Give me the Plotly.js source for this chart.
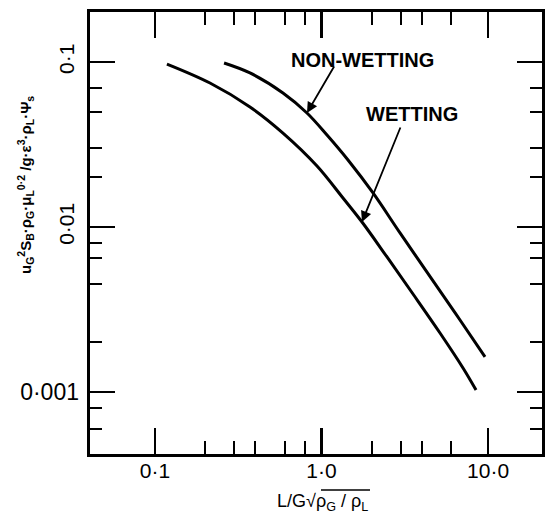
<!DOCTYPE html>
<html>
<head>
<meta charset="utf-8">
<script src="https://cdn.plot.ly/plotly-3.0.1.min.js"></script>
<style>html,body{margin:0;padding:0;background:#fff;}#chart{width:550px;height:522px;}</style>
</head>
<body>
<div id="chart"></div>
<script>
// Non-wetting curve
var nonWetX = [0.260, 0.372, 0.587, 0.818, 1.079, 1.443, 2.039, 2.961, 4.674, 6.787, 9.59];
var nonWetY = [0.0986, 0.0858, 0.0649, 0.0491, 0.0361, 0.02547, 0.01607, 0.0092, 0.00471, 0.00273, 0.00163];
// Wetting curve
var wetX = [0.118, 0.214, 0.372, 0.587, 0.940, 1.346, 1.751, 2.474, 3.544, 5.148, 7.075, 8.47];
var wetY = [0.0972, 0.0746, 0.0534, 0.0371, 0.02343, 0.01499, 0.01072, 0.00658, 0.003925, 0.002278, 0.001398, 0.001028];

var xTickVals = [0.1, 1, 10];
var xTickText = ['0·1', '1·0', '10·0'];
var xMinorVals = [0.2, 0.3, 0.4, 0.6, 0.8, 2, 3, 4, 6];
var yTickValsRot = [0.1, 0.01, 0.001];
var yTickTextRot = ['0·1', '0·01', ''];
var yTickValsFlat = [0.001];
var yTickTextFlat = ['0·001'];
var yMinorVals = [0.07, 0.05, 0.03, 0.02, 0.008, 0.0065, 0.0045, 0.002, 0.0008, 0.0006];

var curveNames = ['NON-WETTING', 'WETTING'];

var xRange = [-1.39, 1.324];
var yRange = [-3.376, -0.697];

var traces = [
  {x: nonWetX, y: nonWetY, mode: 'lines', line: {color: '#000', width: 3, shape: 'spline'}, name: curveNames[0], hoverinfo: 'skip'},
  {x: wetX, y: wetY, mode: 'lines', line: {color: '#000', width: 3, shape: 'spline'}, name: curveNames[1], hoverinfo: 'skip'},
  {x: [null], y: [null], yaxis: 'y2', mode: 'lines', showlegend: false, hoverinfo: 'skip'}
];

var tickFont = {family: 'Liberation Sans, Arial, sans-serif', size: 21, color: '#000'};
function px(xp) { return (xp - 90) / 452; }
function py(yp) { return (454 - yp) / 442; }

var layout = {
  width: 550, height: 522,
  margin: {l: 90, r: 8, t: 12, b: 68},
  paper_bgcolor: '#fff', plot_bgcolor: '#fff',
  showlegend: false,
  xaxis: {
    type: 'log', range: xRange,
    tickmode: 'array', tickvals: xTickVals, ticktext: xTickText,
    ticks: 'inside', ticklen: 26, tickwidth: 2.5, tickcolor: '#000',
    minor: {tickmode: 'array', tickvals: xMinorVals, ticks: 'inside', ticklen: 13, tickwidth: 2, tickcolor: '#000', showgrid: false},
    showline: true, linewidth: 3, linecolor: '#000', mirror: 'ticks',
    showgrid: false, zeroline: false,
    tickfont: tickFont, ticklabelstandoff: -4
  },
  yaxis: {
    type: 'log', range: yRange,
    tickmode: 'array', tickvals: yTickValsRot, ticktext: yTickTextRot, tickangle: -90,
    ticks: 'inside', ticklen: 25, tickwidth: 2.5, tickcolor: '#000',
    minor: {tickmode: 'array', tickvals: yMinorVals, ticks: 'inside', ticklen: 12, tickwidth: 2, tickcolor: '#000', showgrid: false},
    showline: true, linewidth: 3, linecolor: '#000', mirror: 'ticks',
    showgrid: false, zeroline: false,
    tickfont: tickFont, ticklabelstandoff: 5
  },
  yaxis2: {
    type: 'log', range: yRange, overlaying: 'y', side: 'left',
    tickmode: 'array', tickvals: yTickValsFlat, ticktext: yTickTextFlat, tickangle: 0,
    ticks: '', showline: false, showgrid: false, zeroline: false,
    tickfont: {family: 'Liberation Sans, Arial, sans-serif', size: 23, color: '#000'}, ticklabelstandoff: 10
  },
  annotations: [
    {xref: 'paper', yref: 'paper', x: px(362), y: py(60), xanchor: 'center', yanchor: 'middle', text: '<b>' + curveNames[0] + '</b>',
     showarrow: false, font: {family: 'Liberation Sans, Arial, sans-serif', size: 20, color: '#000'}},
    {xref: 'paper', yref: 'paper', x: px(412), y: py(114), xanchor: 'center', yanchor: 'middle', text: '<b>' + curveNames[1] + '</b>',
     showarrow: false, font: {family: 'Liberation Sans, Arial, sans-serif', size: 20, color: '#000'}},
    {x: Math.log10(nonWetX[3]), y: Math.log10(nonWetY[3]), xref: 'x', yref: 'y', text: '', showarrow: true,
     ax: 28, ay: -48, arrowhead: 2, arrowsize: 1.2, arrowwidth: 1.8, arrowcolor: '#000'},
    {x: Math.log10(wetX[6]), y: Math.log10(wetY[6]), xref: 'x', yref: 'y', text: '', showarrow: true,
     ax: 39, ay: -96, arrowhead: 2, arrowsize: 1.2, arrowwidth: 1.8, arrowcolor: '#000'},
    {xref: 'paper', yref: 'paper', x: px(25), y: py(185), xanchor: 'center', yanchor: 'middle', textangle: -90,
     text: '<b>u<sub>G</sub><sup>2</sup>S<sub>B</sub>·ρ<sub>G</sub>·μ<sub>L</sub><sup>0·2</sup> /g·ε<sup>3</sup>·ρ<sub>L</sub>·Ψ<sub>s</sub></b>',
     showarrow: false, font: {family: 'Liberation Sans, Arial, sans-serif', size: 15, color: '#000'}},
    {xref: 'paper', yref: 'paper', x: px(322), y: py(502), xanchor: 'center', yanchor: 'middle',
     text: 'L/G√ρ<sub>G</sub> / ρ<sub>L</sub>',
     showarrow: false, font: {family: 'Liberation Sans, Arial, sans-serif', size: 18, color: '#000'}}
  ],
  shapes: [
    {type: 'line', xref: 'paper', yref: 'paper', x0: px(321), x1: px(370),
     y0: py(490), y1: py(490), line: {color: '#000', width: 1.5}}
  ]
};

Plotly.newPlot('chart', traces, layout, {staticPlot: true, displayModeBar: false});
</script>
</body>
</html>
